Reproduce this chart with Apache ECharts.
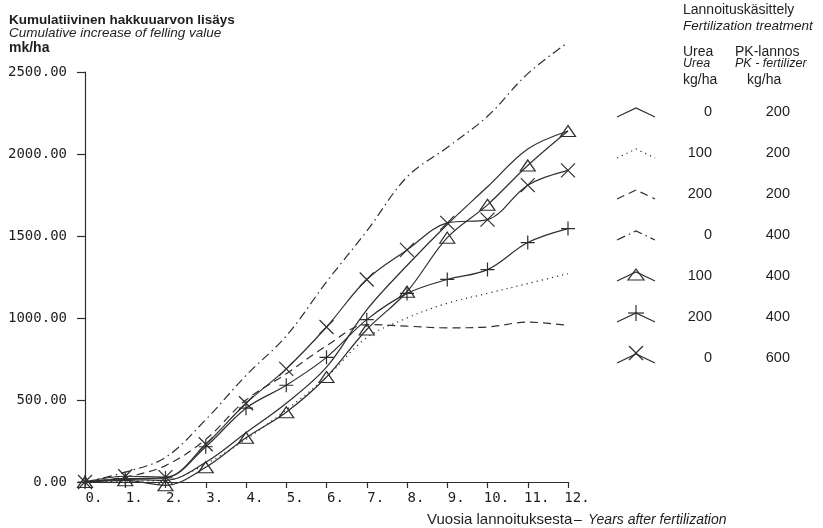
<!doctype html>
<html>
    <head>
        <meta charset="utf-8">
        <style>
            html, body { margin: 0; padding: 0; background: #fff; }
            #main { width: 823px; height: 528px; }
        </style>
    </head>
    <body>
        <div id="main"></div>
        <script src="https://cdn.jsdelivr.net/npm/echarts@6/dist/echarts.min.js"></script>
        <script>
            var chart = echarts.init(document.getElementById('main'));

            // years after fertilization
            var years = [0, 1, 2, 3, 4, 5, 6, 7, 8, 9, 10, 11, 12];
            // cumulative increase of felling value, mk/ha
            var urea0pk200 = [0, 15, 10, 120, 300, 480, 700, 1050, 1320, 1570, 1800, 2030, 2140];
            var urea100pk200 = [0, 5, 10, 110, 260, 440, 640, 880, 1000, 1090, 1150, 1210, 1270];
            var urea200pk200 = [0, 30, 100, 260, 500, 660, 830, 960, 950, 940, 945, 975, 955];
            var urea0pk400 = [0, 60, 150, 380, 650, 890, 1220, 1530, 1860, 2040, 2230, 2490, 2680];
            var urea100pk400 = [0, 10, -20, 90, 270, 425, 640, 930, 1160, 1490, 1690, 1930, 2140];
            var urea200pk400 = [0, 20, 25, 215, 450, 590, 760, 990, 1150, 1235, 1295, 1460, 1545];
            var urea0pk600 = [0, 35, 30, 230, 480, 690, 945, 1235, 1415, 1580, 1600, 1810, 1900];
            // treatments, kg/ha
            var ureaRates = ['0', '100', '200', '0', '100', '200', '0'];
            var pkRates = ['200', '200', '200', '400', '400', '400', '600'];

            var ink = '#2e2e2e';
            var plusPath = 'path://M5 0 L5 10 M0 5 L10 5';
            var crossPath = 'path://M0 0 L10 10 M10 0 L0 10';

            var treatments = [
                { data: urea0pk200, dash: 'solid', symbol: 'none' },
                { data: urea100pk200, dash: [1.2, 4], symbol: 'none' },
                { data: urea200pk200, dash: [8, 5], symbol: 'none' },
                { data: urea0pk400, dash: [9, 4, 1.5, 4], symbol: 'none' },
                { data: urea100pk400, dash: 'solid', symbol: 'triangle' },
                { data: urea200pk400, dash: 'solid', symbol: plusPath },
                { data: urea0pk600, dash: 'solid', symbol: crossPath }
            ];

            var series = treatments.map(function (t, i) {
                return {
                    type: 'line',
                    name: ureaRates[i] + '/' + pkRates[i],
                    data: years.map(function (y, j) { return [y, t.data[j]]; }),
                    smooth: 0.35,
                    clip: false,
                    symbol: t.symbol,
                    showSymbol: t.symbol !== 'none',
                    symbolSize: t.symbol === 'triangle' ? [15, 11] : 14,
                    lineStyle: { color: ink, width: 1.2, type: t.dash },
                    itemStyle: { color: 'none', borderColor: ink, borderWidth: 1.2 },
                    emphasis: { disabled: true },
                    animation: false
                };
            });

            // legend drawn by hand: chevron line + marker, two columns of rates
            var legendX0 = 617, legendX1 = 655, apexX = 636;
            var graphics = [];
            treatments.forEach(function (t, i) {
                var cy = 112 + i * 41;
                graphics.push({
                    type: 'polyline',
                    shape: { points: [[legendX0, cy + 5], [apexX, cy - 4], [legendX1, cy + 5]] },
                    style: { stroke: ink, lineWidth: 1.2, fill: null, lineDash: t.dash === 'solid' ? null : t.dash }
                });
                if (t.symbol === 'triangle') {
                    graphics.push({
                        type: 'polygon',
                        shape: { points: [[apexX, cy - 7], [apexX - 8, cy + 4], [apexX + 8, cy + 4]] },
                        style: { stroke: ink, lineWidth: 1.2, fill: null }
                    });
                } else if (t.symbol === plusPath) {
                    graphics.push({ type: 'line', shape: { x1: apexX, y1: cy - 12, x2: apexX, y2: cy + 4 }, style: { stroke: ink, lineWidth: 1.2 } });
                    graphics.push({ type: 'line', shape: { x1: apexX - 8, y1: cy - 4, x2: apexX + 8, y2: cy - 4 }, style: { stroke: ink, lineWidth: 1.2 } });
                } else if (t.symbol === crossPath) {
                    graphics.push({ type: 'line', shape: { x1: apexX - 7, y1: cy - 12, x2: apexX + 7, y2: cy + 2 }, style: { stroke: ink, lineWidth: 1.2 } });
                    graphics.push({ type: 'line', shape: { x1: apexX + 7, y1: cy - 12, x2: apexX - 7, y2: cy + 2 }, style: { stroke: ink, lineWidth: 1.2 } });
                }
                graphics.push({
                    type: 'text',
                    style: { text: ureaRates[i], x: 712, y: cy, textAlign: 'right', textVerticalAlign: 'middle', font: '14.5px "Liberation Sans"', fill: '#1e1e1e' }
                });
                graphics.push({
                    type: 'text',
                    style: { text: pkRates[i], x: 790, y: cy, textAlign: 'right', textVerticalAlign: 'middle', font: '14.5px "Liberation Sans"', fill: '#1e1e1e' }
                });
            });

            function txt(s, x, y, font) {
                return { type: 'text', style: { text: s, x: x, y: y, textVerticalAlign: 'middle', font: font, fill: '#1e1e1e' } };
            }
            var sans = '"Liberation Sans"';
            graphics.push(
                txt('Kumulatiivinen hakkuuarvon lisäys', 9, 20, 'bold 13.5px ' + sans),
                txt('Cumulative increase of felling value', 9, 33, 'italic 13.5px ' + sans),
                txt('mk/ha', 9, 48, 'bold 14px ' + sans),
                txt('Lannoituskäsittely', 683, 10, '14px ' + sans),
                txt('Fertilization treatment', 683, 26, 'italic 13.5px ' + sans),
                txt('Urea', 683, 52, '14px ' + sans),
                txt('PK-lannos', 735, 52, '14px ' + sans),
                txt('Urea', 683, 64, 'italic 12.5px ' + sans),
                txt('PK - fertilizer', 735, 64, 'italic 12.5px ' + sans),
                txt('kg/ha', 683, 80, '14px ' + sans),
                txt('kg/ha', 747, 80, '14px ' + sans),
                txt('Vuosia lannoituksesta', 427, 520, '15px ' + sans),
                txt('–', 574, 520, '14px ' + sans),
                txt('Years after fertilization', 588, 520, 'italic 14px ' + sans)
            );

            chart.setOption({
                animation: false,
                backgroundColor: '#fff',
                grid: { left: 85, right: 255, top: 72, bottom: 46 },
                xAxis: {
                    type: 'value',
                    min: 0,
                    max: 12,
                    interval: 1,
                    axisLine: { lineStyle: { color: ink, width: 1.2 } },
                    axisTick: { show: true, inside: false, length: 6, lineStyle: { color: ink, width: 1.2 } },
                    splitLine: { show: false },
                    axisLabel: {
                        formatter: function (v) { return v + '.'; },
                        fontFamily: 'DejaVu Sans Mono',
                        fontSize: 14,
                        color: '#1e1e1e',
                        margin: 9,
                        align: 'center',
                        padding: [0, 0, 0, 18]
                    }
                },
                yAxis: {
                    type: 'value',
                    min: 0,
                    max: 2500,
                    interval: 500,
                    axisLine: { show: true, lineStyle: { color: ink, width: 1.2 } },
                    axisTick: { show: true, inside: false, length: 8, lineStyle: { color: ink, width: 1.2 } },
                    splitLine: { show: false },
                    axisLabel: {
                        formatter: function (v) { return v.toFixed(2); },
                        fontFamily: 'DejaVu Sans Mono',
                        fontSize: 14,
                        color: '#1e1e1e',
                        margin: 18
                    }
                },
                graphic: graphics,
                series: series
            });

            window.onresize = chart.resize;
        </script>
    </body>
</html>
